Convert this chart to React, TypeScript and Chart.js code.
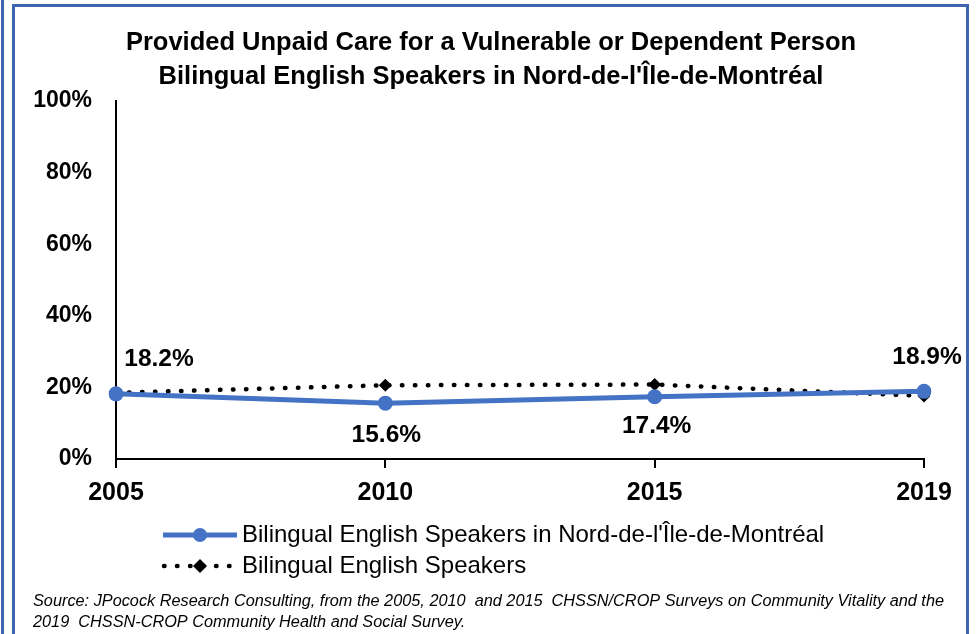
import React, { useEffect, useRef } from "react";
import { Chart, registerables } from "chart.js";

Chart.register(...registerables);

const years = ["2005", "2010", "2015", "2019"];
const regionValues = [18.2, 15.6, 17.4, 18.9];
const provinceValues = [18.5, 20.6, 20.8, 17.6];
const yTickStep = 20;
const yMax = 100;
const titleLines = [
  "Provided Unpaid Care for a Vulnerable or Dependent Person",
  "Bilingual English Speakers in Nord-de-l'Île-de-Montréal",
];
const seriesNames = [
  "Bilingual English Speakers in Nord-de-l'Île-de-Montréal",
  "Bilingual English Speakers",
];
const sourceLines = [
  "Source: JPocock Research Consulting, from the 2005, 2010  and 2015  CHSSN/CROP Surveys on Community Vitality and the",
  "2019  CHSSN-CROP Community Health and Social Survey.",
];

const FONT = "'Liberation Sans', Arial, sans-serif";
const BLUE = "#4472C4";
const FRAME = "#3F65AE";

const framePlugin = {
  id: "frame",
  beforeDraw(chart: any) {
    const ctx = chart.ctx;
    ctx.save();
    ctx.fillStyle = "#fff";
    ctx.fillRect(0, 0, chart.width, chart.height);
    ctx.strokeStyle = FRAME;
    ctx.lineWidth = 3;
    ctx.beginPath();
    ctx.moveTo(2.5, 0);
    ctx.lineTo(2.5, chart.height);
    ctx.moveTo(13.5, chart.height);
    ctx.lineTo(13.5, 5.5);
    ctx.lineTo(967.5, 5.5);
    ctx.lineTo(967.5, chart.height);
    ctx.stroke();
    // title
    ctx.fillStyle = "#000";
    ctx.font = `bold 25.5px ${FONT}`;
    ctx.textAlign = "center";
    ctx.textBaseline = "middle";
    ctx.fillText(titleLines[0], 491, 43);
    ctx.fillText(titleLines[1], 491, 77);
    ctx.restore();
  },
};

const labelsPlugin = {
  id: "valueLabels",
  afterDatasetsDraw(chart: any) {
    const ctx = chart.ctx;
    const meta = chart.getDatasetMeta(0);
    const offsets = [
      [43, -35],
      [1, 32],
      [2, 30],
      [3, -34],
    ];
    ctx.save();
    ctx.font = `bold 24.5px ${FONT}`;
    ctx.fillStyle = "#000";
    ctx.textAlign = "center";
    ctx.textBaseline = "middle";
    meta.data.forEach((pt: any, i: number) => {
      const v = regionValues[i];
      ctx.fillText(v.toFixed(1) + "%", pt.x + offsets[i][0], pt.y + offsets[i][1]);
    });
    ctx.restore();
  },
};

const legendPlugin = {
  id: "customLegend",
  afterDraw(chart: any) {
    const ctx = chart.ctx;
    ctx.save();
    // row 1
    const y1 = 535;
    ctx.strokeStyle = BLUE;
    ctx.lineWidth = 5;
    ctx.lineCap = "butt";
    ctx.beginPath();
    ctx.moveTo(163, y1);
    ctx.lineTo(237, y1);
    ctx.stroke();
    ctx.fillStyle = BLUE;
    ctx.beginPath();
    ctx.arc(200, y1, 7, 0, Math.PI * 2);
    ctx.fill();
    // row 2
    const y2 = 566;
    ctx.strokeStyle = "#000";
    ctx.lineWidth = 4.5;
    ctx.lineCap = "round";
    ctx.setLineDash([0.5, 12.5]);
    ctx.beginPath();
    ctx.moveTo(164, y2);
    ctx.lineTo(237, y2);
    ctx.stroke();
    ctx.setLineDash([]);
    ctx.fillStyle = "#000";
    ctx.beginPath();
    ctx.moveTo(200, y2 - 7);
    ctx.lineTo(207, y2);
    ctx.lineTo(200, y2 + 7);
    ctx.lineTo(193, y2);
    ctx.closePath();
    ctx.fill();
    ctx.font = `24px ${FONT}`;
    ctx.textAlign = "left";
    ctx.textBaseline = "middle";
    ctx.fillText(seriesNames[0], 242, y1);
    ctx.fillText(seriesNames[1], 242, y2);
    // source
    ctx.font = `italic 16.3px ${FONT}`;
    ctx.fillText(sourceLines[0], 33, 601);
    ctx.fillText(sourceLines[1], 33, 622);
    ctx.restore();
  },
};

export default function App() {
  const ref = useRef<HTMLCanvasElement | null>(null);
  useEffect(() => {
    if (!ref.current) return;
    const chart = new Chart(ref.current, {
      type: "line",
      data: {
        labels: years,
        datasets: [
          {
            label: seriesNames[0],
            data: regionValues,
            borderColor: BLUE,
            backgroundColor: BLUE,
            borderWidth: 5,
            pointRadius: 7.5,
            pointBackgroundColor: BLUE,
            pointBorderWidth: 0,
            tension: 0,
          },
          {
            label: seriesNames[1],
            data: provinceValues,
            borderColor: "#000",
            backgroundColor: "#000",
            borderWidth: 4.5,
            borderDash: [0.5, 12.5],
            borderCapStyle: "round",
            pointStyle: "rectRot",
            pointRadius: 6.5,
            pointBackgroundColor: "#000",
            pointBorderWidth: 0,
            tension: 0,
          },
        ],
      },
      options: {
        animation: false,
        responsive: false,
        layout: { padding: { left: 0, right: 55, top: 101, bottom: 0 } },
        plugins: {
          legend: { display: false },
          tooltip: { enabled: false },
          title: { display: false },
        },
        scales: {
          x: {
            type: "category",
            offset: false,
            grid: {
              display: true,
              drawOnChartArea: false,
              drawTicks: true,
              tickLength: 9,
              color: "#000",
              lineWidth: 2,
            },
            border: { display: true, color: "#000", width: 2 },
            ticks: {
              color: "#000",
              font: { family: FONT, size: 25, weight: "bold" },
              padding: 10,
              maxRotation: 0,
              autoSkip: false,
            },
            afterFit: (s: any) => {
              s.height = 175;
            },
          },
          y: {
            min: 0,
            max: yMax,
            grid: { display: false, drawTicks: false },
            border: { display: true, color: "#000", width: 2 },
            ticks: {
              stepSize: yTickStep,
              color: "#000",
              font: { family: FONT, size: 23, weight: "bold" },
              padding: 24,
              callback: (v: any) => v + "%",
            },
            afterFit: (s: any) => {
              s.width = 116;
            },
          },
        },
      },
      plugins: [framePlugin, labelsPlugin, legendPlugin],
    } as any);
    return () => chart.destroy();
  }, []);
  return (
    <div style={{ position: "absolute", left: 0, top: 0, width: 979, height: 634 }}>
      <canvas ref={ref} width={979} height={634} style={{ display: "block" }} />
    </div>
  );
}
